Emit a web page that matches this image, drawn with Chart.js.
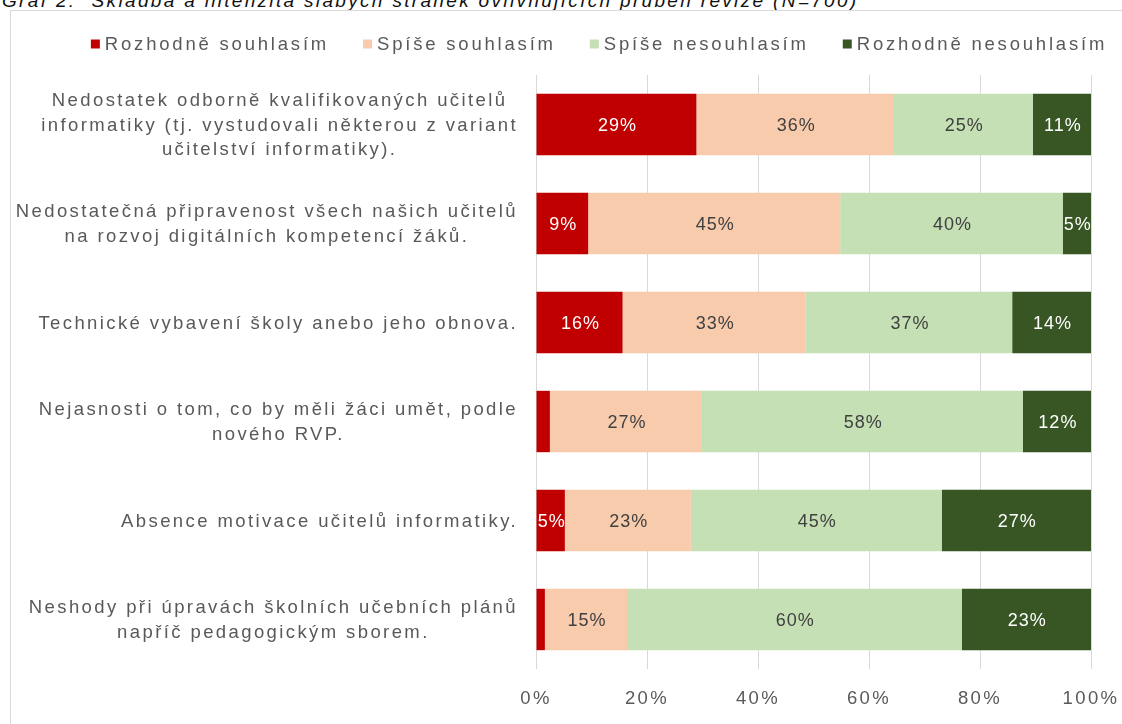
<!DOCTYPE html>
<html lang="cs">
<head>
<meta charset="utf-8">
<title>Graf 2</title>
<script src="https://cdn.jsdelivr.net/npm/chart.js@4.4.1/dist/chart.umd.min.js"></script>
<style>
    html, body { margin: 0; padding: 0; background: #fff; overflow: hidden; }
    body { width: 1122px; height: 724px; position: relative; }
    .title {
        position: absolute; left: 2px; top: -9px;
        font: italic 19px "Liberation Sans", Arial, sans-serif;
        line-height: 19px; letter-spacing: 2.33px; white-space: pre; color: #111;
    }
    .frame {
        position: absolute; left: 10px; top: 10px; width: 1130px; height: 730px;
        border: 1px solid #d9d9d9; box-sizing: border-box;
    }
    .chart-box { position: absolute; left: 11px; top: 11px; width: 1111px; height: 713px; }
</style>
</head>
<body>
<div class="title">Graf 2:  Skladba a intenzita slabých stránek ovlivňujících průběh revize (N=700)</div>
<div class="frame"></div>
<div class="chart-box"><canvas id="graf"></canvas></div>
<script>
// categories (multi-line labels as in the original)
const categories = [
    ["Nedostatek odborně kvalifikovaných učitelů", "informatiky (tj. vystudovali některou z variant", "učitelství informatiky)."],
    ["Nedostatečná připravenost všech našich učitelů", "na rozvoj digitálních kompetencí žáků."],
    ["Technické vybavení školy anebo jeho obnova."],
    ["Nejasnosti o tom, co by měli žáci umět, podle", "nového RVP."],
    ["Absence motivace učitelů informatiky."],
    ["Neshody při úpravách školních učebních plánů", "napříč pedagogickým sborem."]
];

const seriesNames = ["Rozhodně souhlasím", "Spíše souhlasím", "Spíše nesouhlasím", "Rozhodně nesouhlasím"];

// shares in %
const rozhodneSouhlasim   = [28.9,  9.4, 15.6,  2.5,  5.2,  1.6];
const spiseSouhlasim      = [35.6, 45.4, 33.0, 27.4, 22.7, 14.8];
const spiseNesouhlasim    = [25.0, 40.1, 37.2, 57.8, 45.2, 60.3];
const rozhodneNesouhlasim = [10.5,  5.1, 14.2, 12.3, 26.9, 23.3];

const xTickLabels = ["0%", "20%", "40%", "60%", "80%", "100%"];

const barColors = ["#c00000", "#f8cbad", "#c5e0b4", "#375623"];
const valueColors = ["#ffffff", "#404040", "#404040", "#ffffff"];
const textGray = "#595959";
const FONT = '"Liberation Sans", Arial, sans-serif';

// Excel-like spaced text for axis ticks
const spacingPlugin = {
    id: "spacing",
    beforeDraw(chart) { chart.ctx.letterSpacing = "2.4px"; }
};

const categoryLabels = {
    id: "categoryLabels",
    afterDraw(chart) {
        const ctx = chart.ctx;
        const yScale = chart.scales.y;
        const right = chart.chartArea.left - 18;
        const lineH = 24.5;
        ctx.save();
        ctx.font = "18.5px " + FONT;
        ctx.letterSpacing = "2.4px";
        ctx.fillStyle = textGray;
        ctx.textAlign = "center";
        ctx.textBaseline = "middle";
        categories.forEach((lines, i) => {
            const yc = yScale.getPixelForValue(i) + 1;
            const w = Math.max(...lines.map(l => ctx.measureText(l).width));
            const xc = right - w / 2;
            lines.forEach((l, k) => {
                ctx.fillText(l, xc, yc + (k - (lines.length - 1) / 2) * lineH);
            });
        });
        ctx.restore();
    }
};

const valueLabels = {
    id: "valueLabels",
    afterDatasetsDraw(chart) {
        const ctx = chart.ctx;
        ctx.save();
        ctx.font = "18px " + FONT;
        ctx.letterSpacing = "1px";
        ctx.textAlign = "center";
        ctx.textBaseline = "middle";
        chart.data.datasets.forEach((ds, di) => {
            const meta = chart.getDatasetMeta(di);
            meta.data.forEach((bar, i) => {
                const v = ds.data[i];
                if (v < 3) return;
                ctx.fillStyle = valueColors[di];
                ctx.fillText(Math.round(v) + "%", (bar.x + bar.base) / 2 + 1, bar.y + 2);
            });
        });
        ctx.restore();
    }
};

const topLegend = {
    id: "topLegend",
    afterDraw(chart) {
        const ctx = chart.ctx;
        const box = 9, gapText = 5, gapItem = 34;
        const cx = 588, cy = 33;
        ctx.save();
        ctx.font = "18.5px " + FONT;
        ctx.letterSpacing = "2.8px";
        ctx.textBaseline = "middle";
        ctx.textAlign = "left";
        const widths = seriesNames.map(n => ctx.measureText(n).width);
        const total = widths.reduce((a, b) => a + b, 0) + seriesNames.length * (box + gapText) + (seriesNames.length - 1) * gapItem;
        let x = cx - total / 2;
        seriesNames.forEach((n, i) => {
            ctx.fillStyle = barColors[i];
            ctx.fillRect(x, cy - box / 2, box, box);
            x += box + gapText;
            ctx.fillStyle = textGray;
            ctx.fillText(n, x, cy + 1);
            x += widths[i] + gapItem;
        });
        ctx.restore();
    }
};

const seriesData = [rozhodneSouhlasim, spiseSouhlasim, spiseNesouhlasim, rozhodneNesouhlasim];

new Chart(document.getElementById("graf"), {
    type: "bar",
    data: {
        labels: categories,
        datasets: seriesData.map((d, i) => ({
            label: seriesNames[i],
            data: d,
            backgroundColor: barColors[i],
            borderWidth: 0,
            barPercentage: 0.62,
            categoryPercentage: 1
        }))
    },
    options: {
        indexAxis: "y",
        responsive: true,
        maintainAspectRatio: false,
        animation: false,
        layout: { padding: { left: 525, right: 31, top: 64, bottom: 15 } },
        plugins: { legend: { display: false }, tooltip: { enabled: false } },
        scales: {
            x: {
                stacked: true,
                min: 0,
                max: 100,
                afterFit(scale) {
                    scale.height = 40;
                    scale.paddingLeft = 0;
                    scale.paddingRight = 0;
                },
                ticks: {
                    stepSize: 20,
                    padding: 19,
                    maxRotation: 0,
                    color: textGray,
                    font: { family: FONT, size: 18.5 },
                    callback: (v, i) => xTickLabels[i]
                },
                grid: { color: "#d9d9d9", lineWidth: 1, drawTicks: false },
                border: { display: false }
            },
            y: {
                stacked: true,
                display: false
            }
        }
    },
    plugins: [spacingPlugin, categoryLabels, valueLabels, topLegend]
});
</script>
</body>
</html>
